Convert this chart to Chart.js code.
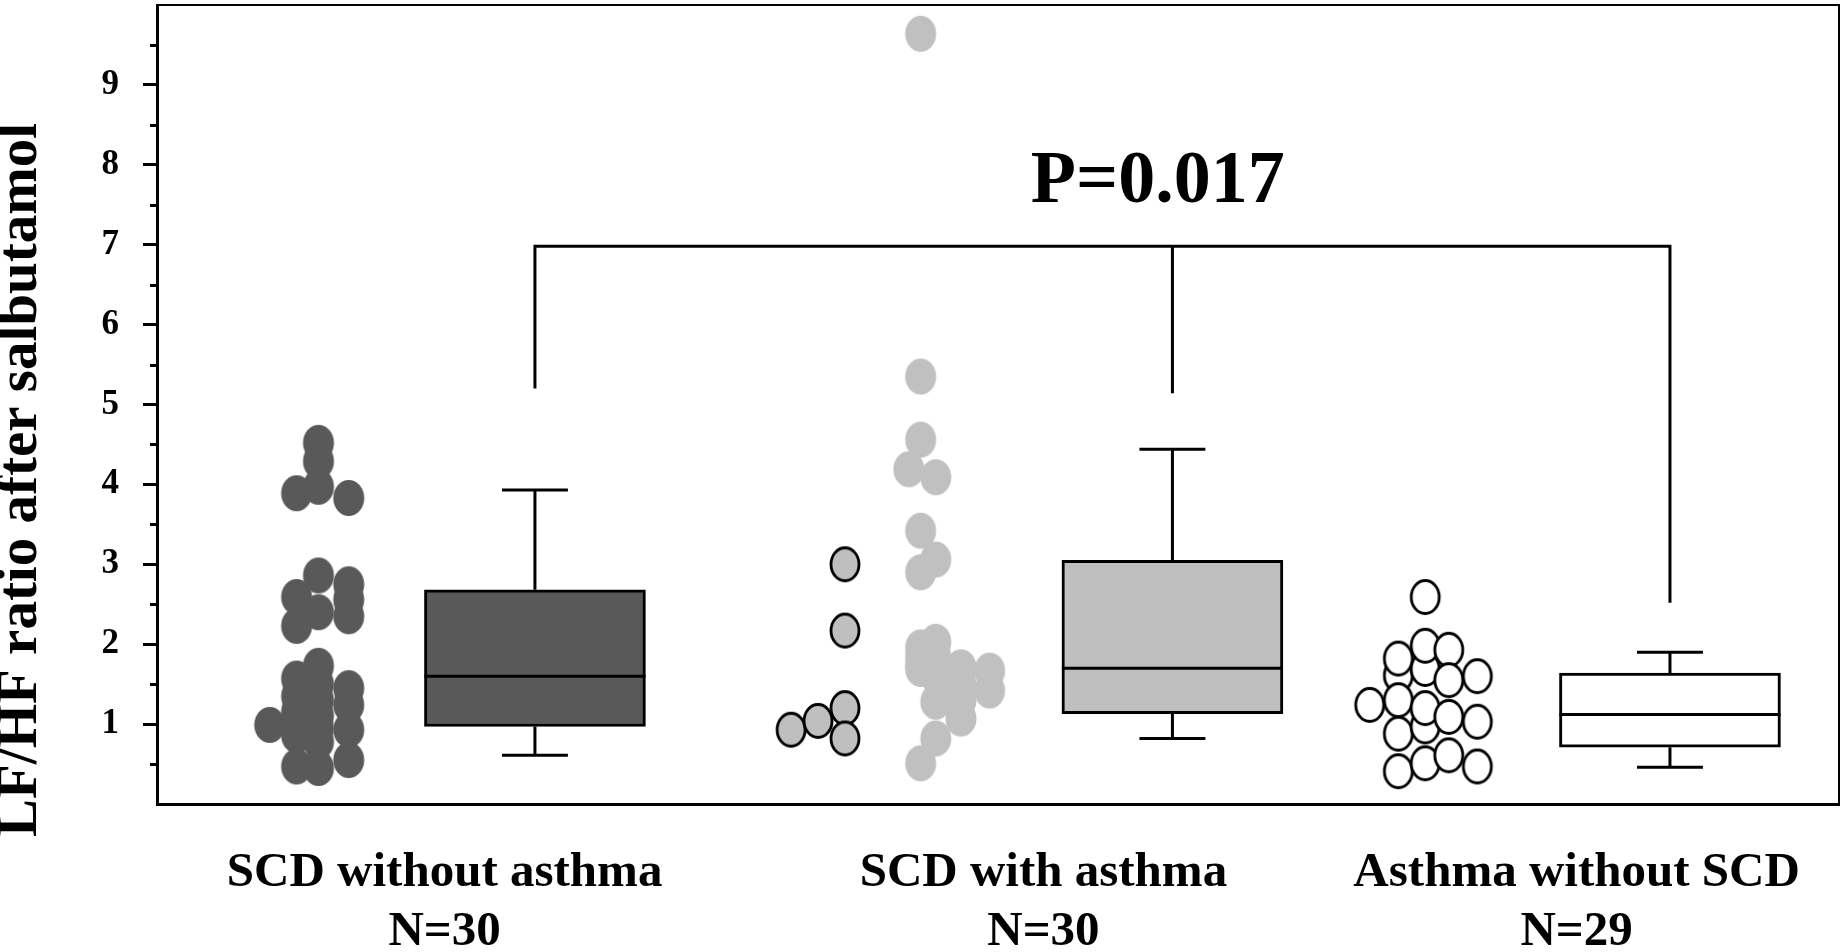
<!DOCTYPE html>
<html>
<head>
<meta charset="utf-8">
<script src="https://cdn.jsdelivr.net/npm/chart.js@4/dist/chart.umd.min.js"></script>
<style>
  html, body { margin: 0; padding: 0; background: #fff; }
  #wrap { width: 1843px; height: 952px; }
</style>
</head>
<body>
<div id="wrap"><canvas id="lfhfChart" width="1843" height="952"></canvas></div>
<script>
/* ===== data ===== */

// x positions are in plot units (0..100 across the plot area)
const categories = [
  ["SCD without asthma", "N=30"],
  ["SCD with asthma", "N=30"],
  ["Asthma without SCD", "N=29"],
];
const categoryLabelX = [17.1, 52.7, 84.4];

const yMajorTicks = [1, 2, 3, 4, 5, 6, 7, 8, 9];
const yMinorTicks = [0.5, 1.5, 2.5, 3.5, 4.5, 5.5, 6.5, 7.5, 8.5, 9.5];

// SCD without asthma (dark dots), one list per dot column
const scdNoAsthmaCols = [6.7, 8.3, 9.6, 11.4];
const scdNoAsthmaVals = [
  [0.99],
  [3.89, 2.59, 2.23, 1.57, 1.35, 1.16, 1.0, 0.86, 0.47],
  [4.52, 4.29, 3.97, 2.86, 2.40, 1.73, 1.50, 1.30, 1.11, 0.95, 0.78, 0.45],
  [3.83, 2.75, 2.56, 2.35, 1.45, 1.24, 0.93, 0.55],
];

// SCD with asthma, outlined subgroup
const scdAsthmaRingCols = [37.7, 39.3, 40.9];
const scdAsthmaRingVals = [
  [0.93],
  [1.04],
  [3.00, 2.17, 1.20, 0.82],
];

// SCD with asthma, light dots
const scdAsthmaCols = [44.7, 45.4, 46.3, 47.8, 49.5];
const scdAsthmaVals = [
  [4.19],
  [9.64, 5.35, 4.56, 3.42, 2.90, 1.96, 1.85, 1.75, 1.69, 0.51],
  [4.09, 3.06, 2.03, 1.85, 1.60, 1.28, 0.82],
  [1.71, 1.50, 1.30, 1.07],
  [1.67, 1.42],
];

// Asthma without SCD (open dots)
const asthmaCols = [72.1, 73.8, 75.4, 76.8, 78.5];
const asthmaVals = [
  [1.24],
  [1.61, 1.82, 1.30, 0.88, 0.41],
  [1.69, 2.59, 1.98, 0.97, 1.20, 0.51],
  [1.93, 1.55, 1.09, 0.61],
  [1.60, 1.03, 0.47],
];

// box plots: centre, min, q1, median, q3, max
const boxCenters = [22.47, 60.37, 89.95];
const boxMin = [0.61, 0.82, 0.46];
const boxQ1 = [0.97, 1.13, 0.71];
const boxMedian = [1.60, 1.70, 1.12];
const boxQ3 = [2.68, 3.05, 1.64];
const boxMax = [3.93, 4.44, 1.90];
const boxColors = ["#595959", "#bfbfbf", "#ffffff"];

// significance bracket
const bracketY = 6.98;
const bracketLegEnds = [5.2, 5.14, 2.52];
const pText = "P=0.017";
const pTextX = 59.5;
const pTextY = 7.54;

/* ===== helpers ===== */

const BOX_HALF = 6.57;
const CAP_HALF = 1.96;
const SERIF = "'Liberation Serif', 'Times New Roman', serif";

function dotImage(fill, stroke) {
  const c = document.createElement("canvas");
  c.width = 34;
  c.height = 40;
  const g = c.getContext("2d");
  g.beginPath();
  if (stroke) {
    g.ellipse(17, 20, 14, 16.5, 0, 0, Math.PI * 2);
  } else {
    g.ellipse(17, 20, 15.5, 18, 0, 0, Math.PI * 2);
  }
  g.fillStyle = fill;
  g.fill();
  if (stroke) {
    g.lineWidth = 2.8;
    g.strokeStyle = stroke;
    g.stroke();
  }
  return c;
}

function columnsToPoints(cols, vals) {
  const pts = [];
  cols.forEach((x, i) => vals[i].forEach(v => pts.push({ x, y: v })));
  return pts;
}

const gap = { x: 0, y: null };

const whiskerPts = [];
const medianPts = [];
boxCenters.forEach((c, i) => {
  whiskerPts.push({ x: c, y: boxQ3[i] }, { x: c, y: boxMax[i] }, gap);
  whiskerPts.push({ x: c - CAP_HALF, y: boxMax[i] }, { x: c + CAP_HALF, y: boxMax[i] }, gap);
  whiskerPts.push({ x: c, y: boxQ1[i] }, { x: c, y: boxMin[i] }, gap);
  whiskerPts.push({ x: c - CAP_HALF, y: boxMin[i] }, { x: c + CAP_HALF, y: boxMin[i] }, gap);
  medianPts.push({ x: c - BOX_HALF, y: boxMedian[i] }, { x: c + BOX_HALF, y: boxMedian[i] }, gap);
});

const bracketPts = [
  { x: boxCenters[0], y: bracketLegEnds[0] },
  { x: boxCenters[0], y: bracketY },
  { x: boxCenters[2], y: bracketY },
  { x: boxCenters[2], y: bracketLegEnds[2] },
  gap,
  { x: boxCenters[1], y: bracketY },
  { x: boxCenters[1], y: bracketLegEnds[1] },
];

// keep the axes from reserving space for overflowing labels
function noPadding(scale) {
  scale.paddingTop = 0;
  scale.paddingBottom = 0;
  scale.paddingLeft = 0;
  scale.paddingRight = 0;
}

/* ===== plugins ===== */

const extrasPlugin = {
  id: "extras",
  afterDraw(chart) {
    const { ctx, scales: { x, y } } = chart;
    ctx.save();

    // minor ticks on the y axis
    ctx.strokeStyle = "#000";
    ctx.lineWidth = 3;
    yMinorTicks.forEach(v => {
      const py = Math.round(y.getPixelForValue(v)) + 0.5;
      ctx.beginPath();
      ctx.moveTo(y.right - 7, py);
      ctx.lineTo(y.right, py);
      ctx.stroke();
    });

    // p value
    ctx.fillStyle = "#000";
    ctx.font = "bold 74px " + SERIF;
    ctx.textAlign = "center";
    ctx.textBaseline = "alphabetic";
    ctx.fillText(pText, x.getPixelForValue(pTextX), y.getPixelForValue(pTextY));

    // y axis title
    ctx.translate(21, chart.height / 2 + 4);
    ctx.rotate(-Math.PI / 2);
    ctx.font = "bold 57px " + SERIF;
    ctx.textBaseline = "middle";
    ctx.fillText("LF/HF ratio after salbutamol", 0, 0);

    ctx.restore();
  },
};

/* ===== chart ===== */

new Chart(document.getElementById("lfhfChart"), {
  type: "scatter",
  data: {
    datasets: [
      {
        type: "bar",
        data: boxCenters.map((c, i) => ({ x: c, y: [boxQ1[i], boxQ3[i]] })),
        backgroundColor: boxColors,
        borderColor: "#000",
        borderWidth: 3,
        borderSkipped: false,
        barThickness: 221,
        grouped: false,
        order: 6,
      },
      {
        type: "line",
        data: medianPts,
        borderColor: "#000",
        borderWidth: 3,
        pointRadius: 0,
        spanGaps: false,
        order: 5,
      },
      {
        type: "line",
        data: whiskerPts,
        borderColor: "#000",
        borderWidth: 3,
        pointRadius: 0,
        spanGaps: false,
        borderCapStyle: "butt",
        order: 5,
      },
      {
        type: "line",
        data: bracketPts,
        borderColor: "#000",
        borderWidth: 3,
        pointRadius: 0,
        spanGaps: false,
        borderJoinStyle: "miter",
        order: 4,
      },
      {
        data: columnsToPoints(scdNoAsthmaCols, scdNoAsthmaVals),
        pointStyle: dotImage("#595959"),
        pointRadius: 17,
        order: 3,
      },
      {
        data: columnsToPoints(scdAsthmaRingCols, scdAsthmaRingVals),
        pointStyle: dotImage("#bfbfbf", "#000"),
        pointRadius: 17,
        order: 3,
      },
      {
        data: columnsToPoints(scdAsthmaCols, scdAsthmaVals),
        pointStyle: dotImage("#c0c0c0"),
        pointRadius: 17,
        order: 3,
      },
      {
        data: columnsToPoints(asthmaCols, asthmaVals),
        pointStyle: dotImage("#ffffff", "#000"),
        pointRadius: 17,
        order: 3,
      },
    ],
  },
  options: {
    responsive: false,
    animation: false,
    devicePixelRatio: 1,
    layout: { autoPadding: false, padding: { top: 5, right: 4, left: 0, bottom: 0 } },
    plugins: {
      legend: { display: false },
      tooltip: { enabled: false },
    },
    scales: {
      x: {
        type: "linear",
        min: 0,
        max: 100,
        offset: false,
        grid: { display: false },
        border: { display: true, color: "#000", width: 3 },
        afterBuildTicks(scale) {
          scale.ticks = categoryLabelX.map(v => ({ value: v }));
        },
        afterFit(scale) {
          scale.height = 148;
          noPadding(scale);
        },
        ticks: {
          autoSkip: false,
          maxRotation: 0,
          padding: 32,
          color: "#000",
          font: { family: SERIF, size: 49, weight: "bold", lineHeight: 1.2 },
          callback: (v, i) => categories[i],
        },
      },
      y: {
        type: "linear",
        min: 0,
        max: 10,
        grid: {
          drawOnChartArea: false,
          drawTicks: true,
          tickLength: 14,
          tickWidth: 3,
          tickColor: ctx => (yMajorTicks.includes(ctx.tick.value) ? "#000" : "rgba(0,0,0,0)"),
        },
        border: { display: true, color: "#000", width: 3 },
        afterFit(scale) {
          scale.width = 157;
          noPadding(scale);
        },
        ticks: {
          stepSize: 0.5,
          autoSkip: false,
          padding: 24,
          color: "#000",
          font: { family: SERIF, size: 35, weight: "bold" },
          callback: v => (yMajorTicks.includes(v) ? String(v) : ""),
        },
      },
      x2: {
        type: "linear",
        position: "top",
        min: 0,
        max: 100,
        grid: { display: false },
        ticks: { display: false },
        border: { display: true, color: "#000", width: 2 },
        afterFit(scale) {
          scale.height = 0;
          noPadding(scale);
        },
      },
      y2: {
        type: "linear",
        position: "right",
        min: 0,
        max: 10,
        grid: { display: false },
        ticks: { display: false },
        border: { display: true, color: "#000", width: 2 },
        afterFit(scale) {
          scale.width = 0;
          noPadding(scale);
        },
      },
    },
  },
  plugins: [extrasPlugin],
});
</script>
</body>
</html>
